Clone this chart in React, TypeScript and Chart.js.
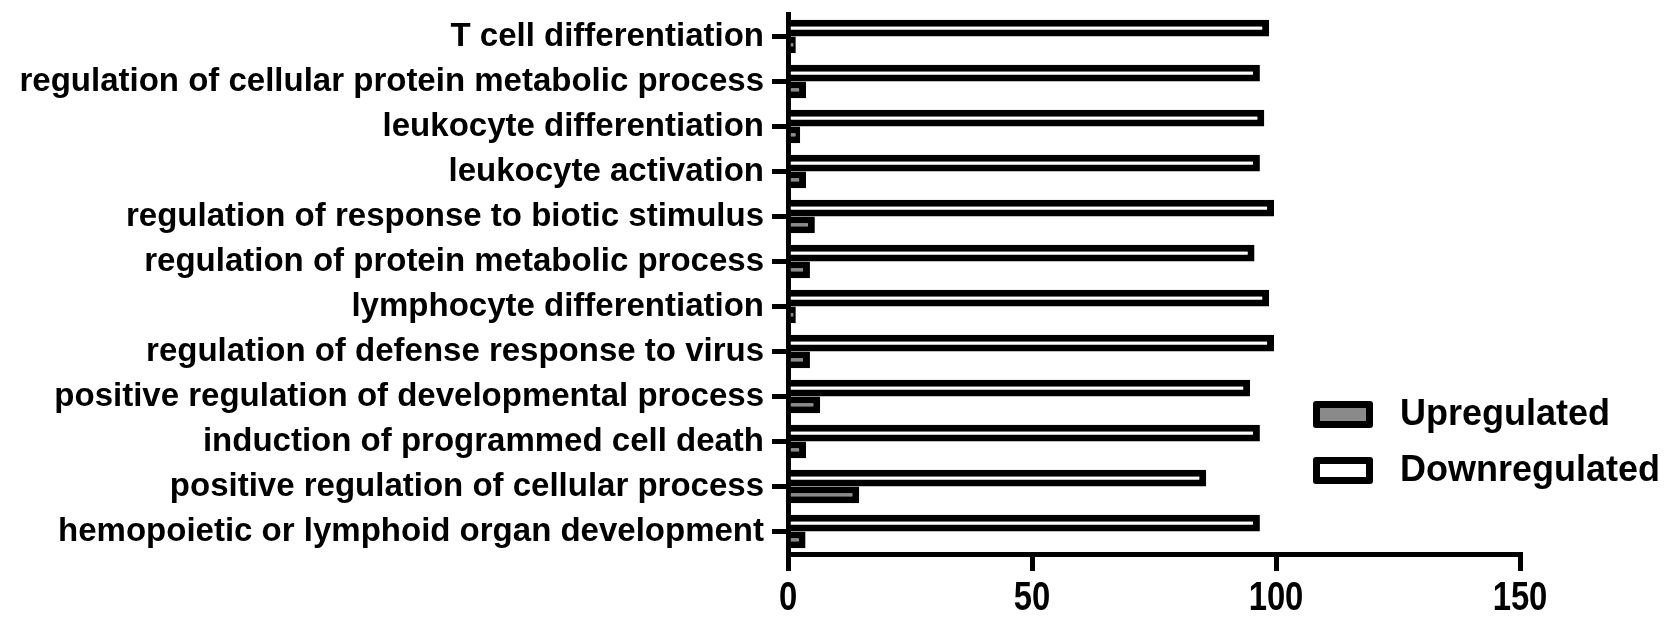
import React, { useEffect, useRef } from "react";
import { Chart, registerables } from "chart.js";

Chart.register(...registerables);

const categories: string[] = [
  "T cell differentiation",
  "regulation of cellular protein metabolic process",
  "leukocyte differentiation",
  "leukocyte activation",
  "regulation of response to biotic stimulus",
  "regulation of protein metabolic process",
  "lymphocyte differentiation",
  "regulation of defense response to virus",
  "positive regulation of developmental process",
  "induction of programmed cell death",
  "positive regulation of cellular process",
  "hemopoietic or lymphoid organ development",
];

const downregulated: number[] = [98.6, 96.7, 97.6, 96.7, 99.6, 95.6, 98.6, 99.6, 94.7, 96.7, 85.7, 96.7];
const upregulated: number[] = [1.6, 3.7, 2.5, 3.7, 5.5, 4.5, 1.6, 4.5, 6.6, 3.7, 14.6, 3.6];

const xTicks: number[] = [0, 50, 100, 150];

const FONT = "'Liberation Sans', Arial, Helvetica, sans-serif";

const customLegend = {
  id: "customLegend",
  afterDraw(chart: any) {
    const ctx = chart.ctx as CanvasRenderingContext2D;
    const order = [1, 0];
    const x0 = 1313;
    const y0 = 401;
    const bw = 60;
    const bh = 27;
    const bord = 7;
    order.forEach((dsIndex, i) => {
      const ds = chart.data.datasets[dsIndex];
      const y = y0 + i * 56;
      ctx.save();
      ctx.fillStyle = "#000";
      ctx.beginPath();
      (ctx as any).roundRect ? (ctx as any).roundRect(x0, y, bw, bh, 3) : ctx.rect(x0, y, bw, bh);
      ctx.fill();
      ctx.fillStyle = ds.backgroundColor as string;
      ctx.fillRect(x0 + bord, y + bord, bw - 2 * bord, bh - 2 * bord);
      ctx.fillStyle = "#000";
      ctx.font = `bold 36px ${FONT}`;
      ctx.textBaseline = "middle";
      ctx.textAlign = "left";
      ctx.fillText(ds.label, 1400, y + bh / 2 + 1);
      ctx.restore();
    });
  },
};

// Draws the x-axis tick labels in a tall, condensed style
const condensedXTicks = {
  id: "condensedXTicks",
  afterDraw(chart: any) {
    const ctx = chart.ctx as CanvasRenderingContext2D;
    const xs = chart.scales.x;
    const yTop = chart.chartArea.bottom + 17 + 8;
    ctx.save();
    ctx.fillStyle = "#000";
    ctx.font = `bold 40px ${FONT}`;
    ctx.textAlign = "center";
    ctx.textBaseline = "top";
    xs.ticks.forEach((t: any) => {
      const px = xs.getPixelForValue(t.value);
      ctx.save();
      ctx.translate(px, yTop);
      ctx.scale(0.82, 1);
      ctx.fillText(String(t.value), 0, 0);
      ctx.restore();
    });
    ctx.restore();
  },
};

export default function App() {
  const canvasRef = useRef<HTMLCanvasElement | null>(null);

  useEffect(() => {
    document.body.style.margin = "0";
    const canvas = canvasRef.current;
    if (!canvas) return;
    const chart = new Chart(canvas, {
      type: "bar",
      data: {
        labels: categories,
        datasets: [
          {
            label: "Downregulated",
            data: downregulated,
            backgroundColor: "#ffffff",
            borderColor: "#000000",
            borderWidth: 7,
            borderSkipped: "start",
          },
          {
            label: "Upregulated",
            data: upregulated,
            backgroundColor: "#8a8a8a",
            borderColor: "#000000",
            borderWidth: 7,
            borderSkipped: "start",
          },
        ],
      },
      options: {
        indexAxis: "y",
        animation: false,
        responsive: false,
        devicePixelRatio: 1,
        maintainAspectRatio: false,
        datasets: {
          bar: {
            barPercentage: 1,
            categoryPercentage: 0.74,
          },
        },
        layout: {
          padding: { top: 14, right: 157, left: 0, bottom: 0 },
        },
        plugins: {
          legend: { display: false },
          tooltip: { enabled: false },
        },
        scales: {
          x: {
            type: "linear",
            min: 0,
            max: 150,
            afterBuildTicks: (scale: any) => {
              scale.ticks = xTicks.map((v) => ({ value: v }));
            },
            afterFit: (scale: any) => {
              scale.height = 73;
              scale.paddingLeft = 0;
              scale.paddingRight = 0;
            },
            border: { display: true, color: "#000", width: 5 },
            grid: {
              display: true,
              drawOnChartArea: false,
              drawTicks: true,
              tickLength: 17,
              lineWidth: 5,
              color: "#000",
            },
            ticks: {
              display: false,
            },
          },
          y: {
            type: "category",
            offset: true,
            afterFit: (scale: any) => {
              scale.width = 788;
              scale.paddingTop = 0;
              scale.paddingBottom = 0;
            },
            border: { display: true, color: "#000", width: 5 },
            grid: {
              display: true,
              offset: false,
              drawOnChartArea: false,
              drawTicks: true,
              tickLength: 16,
              lineWidth: 5,
              color: "#000",
            },
            ticks: {
              color: "#000",
              padding: 8,
              autoSkip: false,
              font: { family: FONT, size: 33, weight: "bold" },
            },
          },
        },
      },
      plugins: [customLegend, condensedXTicks],
    });
    return () => {
      chart.destroy();
    };
  }, []);

  return (
    <div style={{ width: 1677, height: 627, background: "#fff" }}>
      <canvas ref={canvasRef} width={1677} height={627} style={{ width: 1677, height: 627, display: "block" }} />
    </div>
  );
}
